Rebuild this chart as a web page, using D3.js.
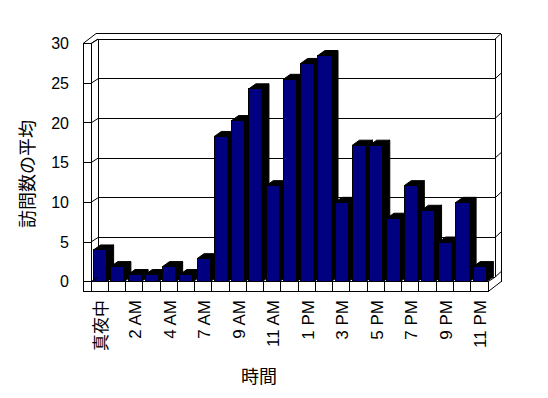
<!DOCTYPE html>
<html>
<head>
<meta charset="utf-8">
<script src="https://cdn.jsdelivr.net/npm/d3@7"></script>
<style>
  body { margin: 0; background: #fff; }
  text { font-family: "Liberation Sans", "Noto Sans CJK JP", sans-serif; fill: #000; }
</style>
</head>
<body>
<div id="root"></div>
<script>
// data
const hours = [
  "真夜中", "1 AM", "2 AM", "3 AM", "4 AM", "5 AM", "7 AM", "8 AM",
  "9 AM", "10 AM", "11 AM", "正午", "1 PM", "2 PM", "3 PM", "4 PM",
  "5 PM", "6 PM", "7 PM", "8 PM", "9 PM", "10 PM", "11 PM",
];
const visits = [
  4, 1.9, 0.9, 0.9, 1.9, 0.9, 2.9, 18.3, 20.3, 24.3, 12.1, 25.5,
  27.5, 28.5, 10, 17.2, 17.2, 8, 12.1, 9, 5, 10, 1.9,
];
const yTicks = [0, 5, 10, 15, 20, 25, 30];
const xTitle = "時間";
const yTitle = "訪問数の平均";

const width = 548;
const height = 398;

const svg = d3
  .select("#root")
  .append("svg")
  .attr("width", width)
  .attr("height", height);

const left = 91;
const right = 488;
const slab = 8; // wall thickness
const floorH = 10;
const wall = { dx: 7, dy: -4.5 }; // front of back wall
const back = { dx: 13, dy: -10 }; // back of back wall
const bar = { dx: 7, dy: -5 };

const x = d3.scaleBand().domain(hours).range([left, right]).padding(0);
const y = d3.scaleLinear().domain([0, 30]).range([281.7, 43.6]);
const y0 = y(0);
const yTop = y(30);
const yb = y0 + floorH;

const line = (g, x1, y1, x2, y2) =>
  g.append("line")
    .attr("x1", x1).attr("y1", y1)
    .attr("x2", x2).attr("y2", y2)
    .attr("stroke", "#000")
    .attr("stroke-width", 1);

const frame = svg.append("g").attr("shape-rendering", "crispEdges");
const slant = svg.append("g");

// back wall + left wall
line(frame, left - slab, yTop, left - slab, yb);
line(frame, left, yTop, left, y0);
line(frame, left - slab, yTop, left, yTop);
line(slant, left - slab, yTop, left - slab + back.dx, yTop + back.dy);
line(slant, left, yTop, left + wall.dx, yTop + wall.dy);
line(frame, left - slab + back.dx, yTop + back.dy, right + back.dx, yTop + back.dy);
line(frame, left + wall.dx, yTop + wall.dy, left + wall.dx, y0 + wall.dy);
line(frame, right + wall.dx, yTop + wall.dy, right + wall.dx, y0 + wall.dy);
line(frame, right + back.dx, yTop + back.dy, right + back.dx, yb + back.dy);

// gridlines
yTicks.forEach((v) => {
  const yy = y(v);
  line(frame, left - slab, yy, left, yy);
  line(slant, left, yy, left + wall.dx, yy + wall.dy);
  line(frame, left + wall.dx, yy + wall.dy, right + wall.dx, yy + wall.dy);
  line(slant, right + wall.dx, yy + wall.dy, right + back.dx, yy + back.dy);
});

// bars
const barW = x.bandwidth() * 0.76;
const barOff = 2.5;
const bars = svg.append("g");
hours.forEach((h, i) => {
  const x0 = x(h) + barOff;
  const x1 = x0 + barW;
  const top = y(visits[i]);
  bars.append("polygon")
    .attr("points", [
      [x0, top], [x1, top], [x1 + bar.dx, top + bar.dy], [x0 + bar.dx, top + bar.dy],
    ].join(" "))
    .attr("fill", "#000")
    .attr("stroke", "#000");
  bars.append("polygon")
    .attr("points", [
      [x1, top], [x1 + bar.dx, top + bar.dy], [x1 + bar.dx, y0 + bar.dy], [x1, y0],
    ].join(" "))
    .attr("fill", "#000")
    .attr("stroke", "#000");
  bars.append("rect")
    .attr("x", x0)
    .attr("y", top)
    .attr("width", barW)
    .attr("height", y0 - top)
    .attr("fill", "#000080")
    .attr("stroke", "#000")
    .attr("shape-rendering", "crispEdges");
});

// floor
const floor = svg.append("g").attr("shape-rendering", "crispEdges");
floor.append("rect")
  .attr("x", left - slab)
  .attr("y", y0)
  .attr("width", right - left + slab)
  .attr("height", floorH)
  .attr("fill", "#fff")
  .attr("stroke", "#000");
x.domain().forEach((h) => line(floor, x(h), y0, x(h), yb));
line(slant, right, y0, right + wall.dx, y0 + wall.dy);
line(slant, right, yb, right + back.dx, yb + back.dy);
slant.raise();

// y tick labels
svg.append("g")
  .selectAll("text")
  .data(yTicks)
  .join("text")
  .attr("x", 69)
  .attr("y", (d) => y(d))
  .attr("dy", "0.36em")
  .attr("text-anchor", "end")
  .attr("font-size", 16)
  .text((d) => d);

// x tick labels, every other hour
svg.append("g")
  .selectAll("text")
  .data(hours.filter((d, i) => i % 2 === 0))
  .join("text")
  .attr("transform", (d) => `translate(${x(d) + x.bandwidth() / 2 + 1},300) rotate(-90)`)
  .attr("dy", "0.36em")
  .attr("text-anchor", "end")
  .attr("font-size", 17)
  .text((d) => d);

// titles
svg.append("text")
  .attr("x", 259)
  .attr("y", 377)
  .attr("dy", "0.36em")
  .attr("text-anchor", "middle")
  .attr("font-size", 18)
  .text(xTitle);

svg.append("text")
  .attr("transform", "translate(28,174) rotate(-90)")
  .attr("dy", "0.36em")
  .attr("text-anchor", "middle")
  .attr("font-size", 18)
  .text(yTitle);
</script>
</body>
</html>
